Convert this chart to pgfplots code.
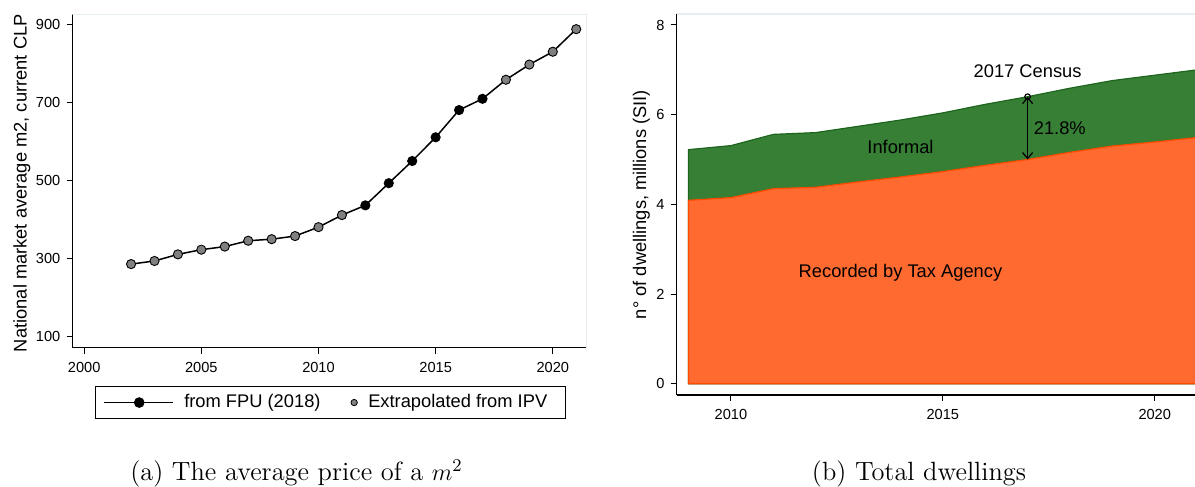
\documentclass[border=0pt]{standalone}
\usepackage{fontspec}
\newfontfamily\arial{Liberation Sans}
\usepackage{pgfplots}
\pgfplotsset{compat=1.18}
\usetikzlibrary{arrows.meta}

\definecolor{frameblue}{HTML}{E6EEF2}
\definecolor{informal}{HTML}{367F35}
\definecolor{informalline}{HTML}{1E661E}
\definecolor{formal}{HTML}{FF6A30}
\definecolor{formalline}{HTML}{FF4A00}
\definecolor{markgray}{HTML}{808080}

\pgfplotsset{
  mystyle/.style={
    scale only axis,
    axis lines*=left,
    axis line style={line width=0.6pt, black},
    tick align=outside,
    major tick length=3pt,
    tick style={line width=0.5pt, black},
    ticklabel style={font=\arial\fontsize{7.3}{8}\selectfont, /pgf/number format/assume math mode=true},
    xticklabel style={/pgf/number format/1000 sep={}, inner sep=0pt, anchor=north, yshift=-4pt},
    yticklabel style={inner sep=0pt, anchor=east, xshift=-2.9pt},
    label style={font=\arial\fontsize{9.15}{11}\selectfont},
  }
}

\begin{document}
\begin{tikzpicture}[x=1pt,y=1pt]
% ---------------- left panel ----------------
\begin{axis}[mystyle,
  at={(36.25pt,69.65pt)}, anchor=south west,
  width=257.25pt, height=166.85pt,
  xmin=1999.5, xmax=2021.46, ymin=70, ymax=928,
  xtick={2000,2005,2010,2015,2020},
  ytick={100,300,500,700,900},
  ylabel={National market average m2, current CLP},
  ylabel style={at={(axis description cs:-0.0894,0.493)}, anchor=base},
  legend columns=2,
  legend style={at={(0.502,-0.1644)}, anchor=center, draw=black, line width=0.5pt,
    font=\arial\fontsize{9.15}{11}\selectfont, inner xsep=3.75pt, inner ysep=4pt,
    nodes={inner sep=0pt},
    /tikz/every odd column/.append style={column sep=5.25pt},
    /tikz/every even column/.append style={column sep=15pt}},
]
\draw[frameblue, line width=0.8pt] (rel axis cs:0,1) -- (rel axis cs:1,1) -- (rel axis cs:1,0);
\addplot[black, line width=0.75pt, forget plot] coordinates {
 (2002,285) (2003,293) (2004,310) (2005,322) (2006,330) (2007,345) (2008,349)
 (2009,357) (2010,380) (2011,411) (2012,436) (2013,493) (2014,550) (2015,611)
 (2016,681) (2017,710) (2018,759) (2019,798) (2020,831) (2021,889)};
\addplot[only marks, mark=*, mark size=2.3pt,
  mark options={fill=markgray, draw=black, line width=0.45pt}, forget plot] coordinates {
 (2002,285) (2003,293) (2004,310) (2005,322) (2006,330) (2007,345) (2008,349)
 (2009,357) (2010,380) (2011,411) (2018,759) (2019,798) (2020,831) (2021,889)};
\addplot[only marks, mark=*, mark size=2.3pt,
  mark options={fill=black, draw=black, line width=0.45pt}, forget plot] coordinates {
 (2012,436) (2013,493) (2014,550) (2015,611) (2016,681) (2017,710)};
\addlegendimage{legend image code/.code={
  \draw[black, line width=0.75pt] (0pt,0pt) -- (34.5pt,0pt);
  \fill[black] (17.6pt,0pt) circle (2.4pt);}}
\addlegendentry{from FPU (2018)}
\addlegendimage{legend image code/.code={
  \filldraw[fill=markgray, draw=black, line width=0.4pt] (0pt,0pt) circle (1.6pt);}}
\addlegendentry{\makebox[95pt][l]{Extrapolated from IPV}}
\end{axis}

% ---------------- right panel ----------------
\begin{axis}[mystyle,
  at={(338.35pt,46pt)}, anchor=south west,
  width=259.15pt, height=190.5pt,
  xmin=2008.72, xmax=2020.95, ymin=-0.252, ymax=8.245,
  xtick={2010,2015,2020},
  ytick={0,2,4,6,8},
  ylabel={n° of dwellings, millions (SII)},
  ylabel style={at={(axis description cs:-0.0592,0.5)}, anchor=base},
]
\draw[frameblue, line width=0.8pt] (rel axis cs:0,1) -- (rel axis cs:1,1);
\addplot[fill=informal, draw=informalline, line width=0.6pt] coordinates {
 (2009,5.22) (2010,5.31) (2011,5.56) (2012,5.60) (2013,5.74) (2014,5.88)
 (2015,6.04) (2016,6.23) (2017,6.40) (2018,6.59) (2019,6.76) (2020,6.88) (2021,7.00)} \closedcycle;
\addplot[fill=formal, draw=formalline, line width=0.6pt] coordinates {
 (2009,4.09) (2010,4.15) (2011,4.35) (2012,4.38) (2013,4.50) (2014,4.61)
 (2015,4.73) (2016,4.87) (2017,5.00) (2018,5.16) (2019,5.30) (2020,5.39) (2021,5.49)} \closedcycle;
\addplot[black, line width=0.6pt, {Straight Barb[length=3pt,width=5pt]}-{Straight Barb[length=3pt,width=5pt]}]
  coordinates {(2017,6.40) (2017,5.00)};
\addplot[only marks, mark=o, mark size=1.4pt, mark options={black, line width=0.6pt}]
  coordinates {(2017,6.40)};
\node[font=\arial\fontsize{9.15}{11}\selectfont] at (axis cs:2017,6.975) {2017 Census};
\node[font=\arial\fontsize{9.15}{11}\selectfont] at (axis cs:2017.76,5.70) {21.8\%};
\node[font=\arial\fontsize{9.15}{11}\selectfont] at (axis cs:2014,5.29) {Informal};
\node[font=\arial\fontsize{9.15}{11}\selectfont] at (axis cs:2014,2.48) {Recorded by Tax Agency};
\end{axis}

% captions
\node[anchor=base, font=\fontsize{13.2}{15}\selectfont, inner sep=0pt] at (148.25pt,3.3pt) {(a) The average price of a $m^2$};
\node[anchor=base, font=\fontsize{13.2}{15}\selectfont, inner sep=0pt] at (459.5pt,3.3pt) {(b) Total dwellings};

\pgfresetboundingbox
\useasboundingbox (0,0) rectangle (597.5pt,243.5pt);
\end{tikzpicture}
\end{document}
